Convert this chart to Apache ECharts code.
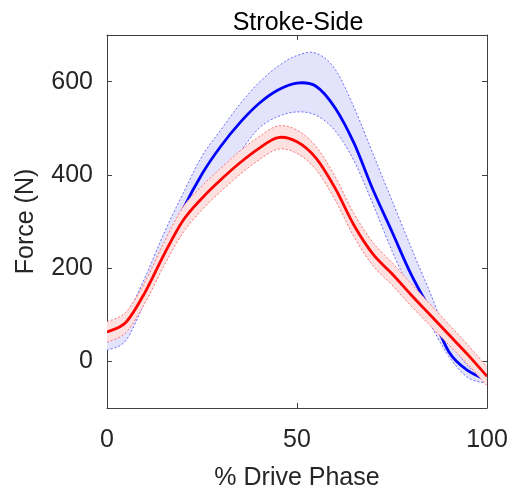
<!DOCTYPE html>
<html>
<head>
<meta charset="utf-8">
<script src="https://cdn.jsdelivr.net/npm/echarts@6/dist/echarts.min.js"></script>
<style>html,body{margin:0;padding:0;background:#fff}#c{width:518px;height:498px}</style>
</head>
<body>
<div id="c"></div>
<script>
const xs        = [0, 5, 10, 15, 20, 25, 30, 35, 40, 45, 50, 55, 60, 65, 70, 75, 80, 85, 90, 95, 100];
const blueMean  = [45, 70, 145, 232, 326, 402, 462, 512, 553, 582, 597, 590, 544, 468, 368, 278, 187, 110, 20, -20, -40];
const blueHi    = [75, 100, 180, 275, 360, 440, 497, 552, 598, 633, 656, 661, 627, 545, 445, 345, 245, 148, 50, -10, -33];
const blueLo    = [24, 45, 128, 210, 285, 335, 385, 448, 500, 525, 535, 528, 495, 430, 337, 237, 150, 80, 10, -35, -47];
const redMean   = [63, 84, 148, 229, 302, 350, 390, 426, 457, 480, 471, 436, 372, 292, 230, 188, 143, 100, 57, 14, -32];
const redHi     = [85, 106, 171, 255, 331, 376, 415, 451, 482, 505, 496, 461, 397, 317, 255, 212, 167, 123, 79, 35, -12];
const redLo     = [41, 62, 125, 205, 276, 325, 365, 401, 432, 455, 446, 411, 347, 267, 205, 164, 119, 77, 35, -7, -52];
const xTicks    = [0, 50, 100];
const yTicks    = [0, 200, 400, 600];

const FONT = '"Liberation Sans", Arial, Helvetica, sans-serif';
const AX = '#404040';

// Catmull-Rom spline through pixel points, as cubic bezier path commands
function splineCmds(pts) {
  let d = '';
  const n = pts.length;
  for (let i = 0; i < n - 1; i++) {
    const p0 = pts[Math.max(i - 1, 0)], p1 = pts[i], p2 = pts[i + 1], p3 = pts[Math.min(i + 2, n - 1)];
    const c1x = p1[0] + (p2[0] - p0[0]) / 6, c1y = p1[1] + (p2[1] - p0[1]) / 6;
    const c2x = p2[0] - (p3[0] - p1[0]) / 6, c2y = p2[1] - (p3[1] - p1[1]) / 6;
    d += 'C' + c1x + ' ' + c1y + ' ' + c2x + ' ' + c2y + ' ' + p2[0] + ' ' + p2[1] + ' ';
  }
  return d;
}
function openPath(pts) {
  return 'M' + pts[0][0] + ' ' + pts[0][1] + ' ' + splineCmds(pts);
}
function closedBand(up, lo) {
  const r = lo.slice().reverse();
  return 'M' + up[0][0] + ' ' + up[0][1] + ' ' + splineCmds(up) +
         'L' + r[0][0] + ' ' + r[0][1] + ' ' + splineCmds(r) + 'Z';
}

function groupSeries(mean, hi, lo, fill, edgeColor, lineColor) {
  const rows = xs.map((x, i) => [x, mean[i], lo[i], hi[i]]);
  return {
    type: 'custom',
    clip: true,
    silent: true,
    data: rows,
    encode: { x: 0, y: [1, 2, 3] },
    renderItem: function (params, api) {
      if (params.dataIndex !== 0) return null;
      const up = rows.map(r => api.coord([r[0], r[3]]));
      const dn = rows.map(r => api.coord([r[0], r[2]]));
      const mn = rows.map(r => api.coord([r[0], r[1]]));
      return {
        type: 'group',
        children: [
          { type: 'path', shape: { pathData: closedBand(up, dn) },
            style: { fill: fill, stroke: null } },
          { type: 'path', shape: { pathData: openPath(up) },
            style: { fill: null, stroke: edgeColor, lineWidth: 1, lineDash: [2, 2] } },
          { type: 'path', shape: { pathData: openPath(dn) },
            style: { fill: null, stroke: edgeColor, lineWidth: 1, lineDash: [2, 2] } },
          { type: 'path', shape: { pathData: openPath(mn) },
            style: { fill: null, stroke: lineColor, lineWidth: 2.8 } }
        ]
      };
    }
  };
}

const axisLineStyle = { show: true, onZero: false, lineStyle: { color: AX, width: 1 } };

const chart = echarts.init(document.getElementById('c'), null, { renderer: 'canvas' });
chart.setOption({
  animation: false,
  backgroundColor: '#fff',
  title: {
    text: 'Stroke-Side', left: 293, top: 6, textAlign: 'center',
    textStyle: { fontFamily: FONT, fontSize: 25, fontWeight: 'normal', color: '#000' }
  },
  grid: { left: 107, right: 31, top: 35, bottom: 90 },
  xAxis: [
    { type: 'value', min: 0, max: 100, interval: 50, position: 'bottom',
      name: '% Drive Phase', nameLocation: 'middle', nameGap: 58,
      nameTextStyle: { fontFamily: FONT, fontSize: 25, color: '#262626' },
      axisLine: axisLineStyle,
      axisTick: { show: true, inside: true, length: 5, customValues: xTicks, lineStyle: { color: AX } },
      axisLabel: { fontFamily: FONT, fontSize: 25, color: '#262626', margin: 20, customValues: xTicks },
      splitLine: { show: false } },
    { type: 'value', min: 0, max: 100, interval: 50, position: 'top',
      axisLine: axisLineStyle,
      axisTick: { show: true, inside: true, length: 5, customValues: xTicks, lineStyle: { color: AX } },
      axisLabel: { show: false }, splitLine: { show: false } }
  ],
  yAxis: [
    { type: 'value', min: -100, max: 700, position: 'left',
      name: 'Force (N)', nameLocation: 'middle', nameGap: 68,
      nameTextStyle: { fontFamily: FONT, fontSize: 25, color: '#262626' },
      axisLine: axisLineStyle,
      axisTick: { show: true, inside: true, length: 5, customValues: yTicks, lineStyle: { color: AX } },
      axisLabel: { fontFamily: FONT, fontSize: 25, color: '#262626', margin: 14, customValues: yTicks },
      splitLine: { show: false } },
    { type: 'value', min: -100, max: 700, position: 'right',
      axisLine: axisLineStyle,
      axisTick: { show: true, inside: true, length: 5, customValues: yTicks, lineStyle: { color: AX } },
      axisLabel: { show: false }, splitLine: { show: false } }
  ],
  series: [
    groupSeries(blueMean, blueHi, blueLo, '#e3e3fc', '#6a6aff', '#0000ff'),
    groupSeries(redMean, redHi, redLo, '#fde1e1', '#ff7070', '#ff0000')
  ]
});
</script>
</body>
</html>
